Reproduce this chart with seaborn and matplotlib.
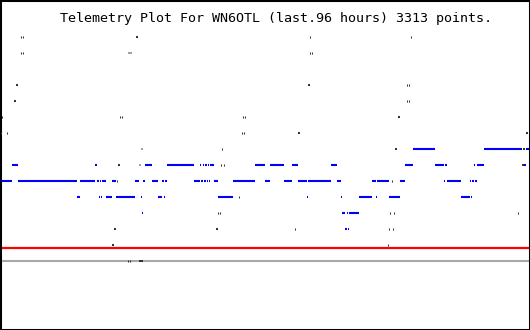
import matplotlib
matplotlib.use("Agg")
import matplotlib.pyplot as plt
import seaborn as sns
import pandas as pd

# ---------------- data (time in hours over the last 96 h, telemetry level) -------------
title = "Telemetry Plot For WN6OTL (last.96 hours) 3313 points."
hours_span = 96

# blue runs: level -> list of (start_hour, end_hour)
blue_level_7 = [(74.81, 78.79), (87.67, 94.55), (95.27, 95.82)]
blue_level_6 = [(2.17, 3.26), (17.21, 17.57), (26.26, 27.53), (30.25, 35.14), (36.23, 36.41),
                (36.77, 36.95), (37.13, 37.49), (37.67, 37.86), (38.04, 38.76), (46.19, 48.00),
                (48.91, 51.44), (52.89, 53.98), (59.95, 61.04), (73.36, 74.81), (78.79, 80.42),
                (80.60, 80.97), (85.86, 86.04), (86.40, 87.67), (94.91, 95.27)]
blue_level_5 = [(0.18, 2.17), (3.26, 13.95), (14.49, 17.21), (17.57, 17.93), (18.11, 18.29),
                (18.48, 19.20), (20.29, 21.01), (24.45, 25.18), (25.90, 26.26), (27.53, 28.62),
                (29.34, 29.71), (29.89, 30.25), (35.14, 36.23), (36.41, 36.77), (36.95, 37.31),
                (37.49, 37.67), (37.86, 38.04), (38.76, 39.49), (42.20, 46.19), (48.00, 48.91),
                (51.44, 52.89), (53.98, 55.61), (55.79, 59.95), (61.04, 61.77), (67.38, 68.10),
                (68.29, 70.46), (72.45, 73.36), (80.42, 80.60), (80.97, 83.50), (85.13, 85.31),
                (85.49, 85.86), (86.04, 86.40)]
blue_level_4 = [(13.95, 14.49), (17.93, 18.11), (18.29, 18.48), (19.20, 20.29), (21.01, 24.45),
                (25.54, 25.72), (28.62, 29.34), (29.71, 29.89), (39.49, 42.20), (55.61, 55.79),
                (61.77, 61.95), (65.03, 67.38), (68.10, 68.29), (70.46, 72.45), (83.50, 85.13),
                (85.31, 85.49)]
blue_level_3 = [(25.72, 25.90), (61.95, 62.49), (62.85, 63.03), (63.21, 65.03)]
blue_level_2 = [(62.49, 62.85), (63.03, 63.21)]

# dark square samples
square_hours = [24.82, 3.08, 55.97, 2.72, 72.27, 54.16, 95.46, 71.73, 94.97,
                21.55, 94.73, 20.83, 39.31, 20.47, 25.36, 25.72]
square_levels = [14, 11, 11, 10, 9, 8, 8, 7, 7,
                 6, 6, 2, 2, 1, 0, 0]

# light grey samples
light_hours = [25.72, 25.36, 23.37, 23.73]
light_levels = [7, 6, 13, 13]

# thin dark samples
tick_hours = [3.80, 4.17, 56.15, 74.44,
              3.80, 4.17, 56.15, 56.51,
              73.72, 74.08,
              73.72, 74.08,
              0.36, 21.74, 22.10, 44.01, 44.38,
              0.18, 1.27, 43.83, 44.20,
              40.21,
              40.03, 40.57,
              21.19, 71.00,
              43.29,
              39.49, 39.85, 70.64, 71.37, 93.83,
              53.43, 70.46, 71.18,
              70.28,
              23.19, 23.55]
tick_levels = [14, 14, 14, 14,
               13, 13, 13, 13,
               11, 11,
               10, 10,
               9, 9, 9, 9, 9,
               8, 8, 8, 8,
               7,
               6, 6,
               5, 5,
               4,
               3, 3, 3, 3, 3,
               2, 2, 2,
               1,
               0, 0]

limit_level = 0.8      # red reference line
base_level = 0.0       # grey baseline

# ---------------- figure ---------------------------------------------------------------
sns.set_style("white")
fig = plt.figure(figsize=(5.3, 3.3), dpi=100)
ax = fig.add_axes([0, 0, 1, 1])

rows = []
for lvl, segs in [(7, blue_level_7), (6, blue_level_6), (5, blue_level_5),
                  (4, blue_level_4), (3, blue_level_3), (2, blue_level_2)]:
    for a, b in segs:
        rows.append({"level": lvl, "start": a, "end": b})
seg = pd.DataFrame(rows)

ax.axhline(limit_level, color="#ff0000", lw=1.6, zorder=2)
ax.axhline(base_level, color="#a8a8a8", lw=1.5, zorder=2)

ax.hlines(seg["level"], seg["start"], seg["end"], color="#0000ff", lw=1.5,
          capstyle="butt", zorder=3)

sq = pd.DataFrame({"h": square_hours, "lvl": square_levels})
sns.scatterplot(data=sq, x="h", y="lvl", marker="s", s=2.6, color="#333333",
                linewidth=0, ax=ax, zorder=4)
lt = pd.DataFrame({"h": light_hours, "lvl": light_levels})
sns.scatterplot(data=lt, x="h", y="lvl", marker="s", s=2.6, color="#a0a0a0",
                linewidth=0, ax=ax, zorder=4)
tk = pd.DataFrame({"h": tick_hours, "lvl": tick_levels})
sns.scatterplot(data=tk, x="h", y="lvl", marker="|", s=3.0, color="#333333",
                linewidth=0.75, ax=ax, zorder=4)

ax.set_xlim(0, hours_span)
ax.set_ylim(-4.33, 16.29)
ax.set_xticks([])
ax.set_yticks([])
ax.set_xlabel("")
ax.set_ylabel("")
for s in ax.spines.values():
    s.set_visible(True)
    s.set_color("black")
    s.set_linewidth(2.2)

fig.text(275.5 / 530, 1 - 18.5 / 330, title, ha="center", va="center",
         family="DejaVu Sans Mono", fontsize=9.6, color="black")

fig.savefig("out.png", dpi=100)
